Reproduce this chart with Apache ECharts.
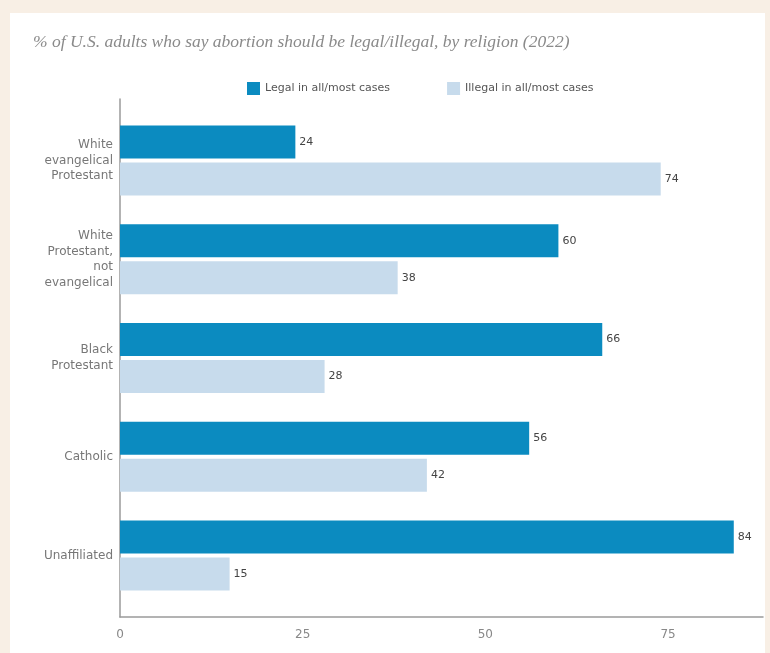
<!DOCTYPE html>
<html>
<head>
<meta charset="utf-8">
<script src="https://cdn.jsdelivr.net/npm/echarts@6/dist/echarts.min.js"></script>
<style>
  html, body { margin: 0; padding: 0; background: #f8efe5; }
  #religionChart { position: absolute; left: 10px; top: 13px; width: 755px; height: 640px; background: #fff; }
</style>
</head>
<body>
<div id="religionChart"></div>
<script>
// abortion views by religion, 2022
var religions = ['White\nevangelical\nProtestant', 'White\nProtestant,\nnot\nevangelical', 'Black\nProtestant', 'Catholic', 'Unaffiliated'];
var legalVals = [24, 60, 66, 56, 84];
var illegalVals = [74, 38, 28, 42, 15];
var xTicks = [0, 25, 50, 75];

var chart = echarts.init(document.getElementById('religionChart'));
var option = {
    title: {
        text: '% of U.S. adults who say abortion should be legal/illegal, by religion (2022)',
        left: 18,
        top: 15,
        textStyle: {
            fontFamily: 'Liberation Serif',
            fontStyle: 'italic',
            fontWeight: 'normal',
            fontSize: 17.5,
            color: '#8a8a8a'
        }
    },
    legend: {
        data: ['Legal in all/most cases', 'Illegal in all/most cases'],
        left: 232,
        top: 64,
        icon: 'rect',
        itemWidth: 13,
        itemHeight: 13,
        itemGap: 57,
        textStyle: {
            fontFamily: 'DejaVu Sans',
            fontSize: 11,
            color: '#555'
        }
    },
    grid: [
        { left: 110, right: 2, top: 98, height: 494 },
        { left: 110, right: 2, top: 86, bottom: 36 }
    ],
    xAxis: [{
        type: 'value',
        gridIndex: 0,
        min: 0,
        max: 88,
        show: false
    }, {
        type: 'value',
        gridIndex: 1,
        min: xTicks[0],
        max: 88,
        interval: 25,
        axisLine: { show: true, lineStyle: { color: '#9a9a9a', width: 1.5 } },
        axisTick: { show: false },
        splitLine: { show: false },
        axisLabel: {
            color: '#888',
            fontFamily: 'DejaVu Sans',
            fontSize: 12,
            margin: 12,
            showMaxLabel: false
        }
    }],
    yAxis: [{
        type: 'category',
        gridIndex: 0,
        inverse: true,
        data: religions,
        axisLine: { show: false },
        axisTick: { show: false },
        axisLabel: {
            color: '#777',
            fontFamily: 'DejaVu Sans',
            fontSize: 12,
            lineHeight: 15.5,
            margin: 7,
            align: 'right'
        }
    }, {
        type: 'value',
        gridIndex: 1,
        min: 0,
        max: 1,
        axisLine: { show: true, lineStyle: { color: '#9a9a9a', width: 1.5 } },
        axisTick: { show: false },
        axisLabel: { show: false },
        splitLine: { show: false }
    }],
    series: [{
        name: 'Legal in all/most cases',
        type: 'bar',
        xAxisIndex: 0,
        yAxisIndex: 0,
        data: legalVals,
        barWidth: 33,
        barGap: '12%',
        itemStyle: { color: '#0b8bc0' },
        label: {
            show: true,
            position: 'right',
            distance: 4,
            color: '#444',
            fontFamily: 'DejaVu Sans',
            fontSize: 11
        }
    }, {
        name: 'Illegal in all/most cases',
        type: 'bar',
        xAxisIndex: 0,
        yAxisIndex: 0,
        data: illegalVals,
        barWidth: 33,
        barGap: '12%',
        itemStyle: { color: '#c7dbec' },
        label: {
            show: true,
            position: 'right',
            distance: 4,
            color: '#444',
            fontFamily: 'DejaVu Sans',
            fontSize: 11
        }
    }]
};
chart.setOption(option);
</script>
</body>
</html>
